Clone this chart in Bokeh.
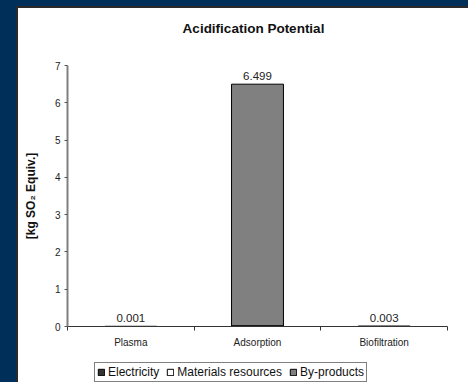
from bokeh.plotting import figure
from bokeh.models import (ColumnDataSource, FixedTicker, LabelSet, Label, Legend,
                          LegendItem, Column, Range1d)
from bokeh.core.properties import value
from bokeh.embed import file_html
from bokeh.resources import INLINE

# Acidification potential by treatment process, kg SO2 equivalent
processes = ["Plasma", "Adsorption", "Biofiltration"]
electricity = [0.001, 0.02, 0.003]
materials = [0.0, 0.0, 0.0]
by_products = [0.0, 6.479, 0.0]
y_ticks = [0, 1, 2, 3, 4, 5, 6, 7]
series_names = ["Electricity", "Materials resources", "By-products"]
series_colors = ["#333333", "white", "#808080"]

FONT = "Liberation Sans"
W = 450
xs = [i + 0.5 for i in range(len(processes))]
totals = [e + m + b for e, m, b in zip(electricity, materials, by_products)]


def strip(height):
    f = figure(width=W, height=height, output_backend="svg", toolbar_location=None,
               x_range=Range1d(0, 1), y_range=Range1d(0, 1),
               x_axis_location=None, y_axis_location=None,
               min_border=0, background_fill_color="white",
               border_fill_color="white", outline_line_color=None)
    f.grid.visible = False
    return f


# Header with the chart title
hdr = strip(40)
hdr.add_layout(Label(x=186, y=20, x_units="screen", y_units="screen",
                     text="Acidification Potential", text_align="center",
                     text_baseline="middle", text_font=FONT,
                     text_font_size="13.5px", text_font_style="bold",
                     text_color="#111111"))

src = ColumnDataSource(dict(
    x=xs,
    e0=[0.0] * 3,
    e1=electricity,
    m1=[e + m for e, m in zip(electricity, materials)],
    b1=totals,
    total=totals,
    label=[f"{t:.3f}" for t in totals],
))

p = figure(width=W, height=308, output_backend="svg", toolbar_location=None,
           x_range=Range1d(0, 3), y_range=Range1d(0, 7),
           min_border_left=49, min_border_right=21, min_border_top=17,
           min_border_bottom=30, background_fill_color="white",
           border_fill_color="white", outline_line_color=None)
p.grid.grid_line_color = None

bw = 0.41
stack = [("e0", "e1"), ("e1", "m1"), ("m1", "b1")]
for (lo, hi), col in zip(stack, series_colors):
    p.vbar(x="x", bottom=lo, top=hi, width=bw, source=src,
           fill_color=col, line_color="black", line_width=1)

labels = LabelSet(x="x", y="total", text="label", source=src, y_offset=4,
                  text_align="center", text_baseline="bottom",
                  text_font=value(FONT), text_font_size=value("11.5px"),
                  text_color="#222222")
p.add_layout(labels)

# X axis: category names centred, ticks between categories
xa = p.xaxis[0]
xa.ticker = FixedTicker(ticks=xs, minor_ticks=[0, 1, 2, 3])
xa.major_label_overrides = {x: n for x, n in zip(xs, processes)}
xa.major_tick_out = 0
xa.major_tick_in = 0
xa.minor_tick_out = 4
xa.minor_tick_in = 0
xa.minor_tick_line_color = "#333333"
xa.axis_line_color = "#333333"
xa.axis_line_width = 1
xa.major_label_text_font = FONT
xa.major_label_text_font_size = "10px"
xa.major_label_text_color = "#222222"
xa.major_label_standoff = 6

# Y axis
ya = p.yaxis[0]
ya.ticker = FixedTicker(ticks=y_ticks)
ya.minor_tick_line_color = None
ya.major_tick_out = 3
ya.major_tick_in = 0
ya.major_tick_line_color = "#555555"
ya.axis_line_color = "#808080"
ya.axis_line_width = 2
ya.major_label_text_font = FONT
ya.major_label_text_font_size = "10px"
ya.major_label_text_color = "#222222"
ya.major_label_standoff = 4
ya.axis_label = "[kg SO\u2082 Equiv.]"
ya.axis_label_text_font = FONT
ya.axis_label_text_font_size = "12px"
ya.axis_label_text_font_style = "bold"
ya.axis_label_text_color = "#111111"
ya.axis_label_standoff = 14

# Legend strip underneath the chart
lg = strip(26)
key_src = ColumnDataSource(dict(x=[-5], top=[-5]))
items = []
for name, col in zip(series_names, series_colors):
    r = lg.vbar(x="x", top="top", bottom=-6, width=0.1, source=key_src,
                fill_color=col, line_color="black", line_width=1)
    items.append(LegendItem(label=name, renderers=[r]))

legend = Legend(items=items, orientation="horizontal", location=(27, 0))
legend.label_text_font = FONT
legend.label_text_font_size = "12px"
legend.label_text_color = "#111111"
legend.glyph_width = 8
legend.glyph_height = 8
legend.label_standoff = 3
legend.spacing = 7
legend.padding = 2
legend.margin = 0
legend.label_height = 11
legend.border_line_color = "black"
legend.border_line_width = 1
legend.background_fill_color = "white"
legend.background_fill_alpha = 1
lg.add_layout(legend, "center")

panel = Column(children=[hdr, p, lg], spacing=0, margin=(8, 0, 0, 18),
               styles={"background-color": "white",
                       "box-shadow": "-1px -1px 0 1px #2a2a2a"})
page = Column(children=[panel], width=468, height=382,
              styles={"background-color": "#00305a"})

open("out.html", "w").write(file_html(page, INLINE))
